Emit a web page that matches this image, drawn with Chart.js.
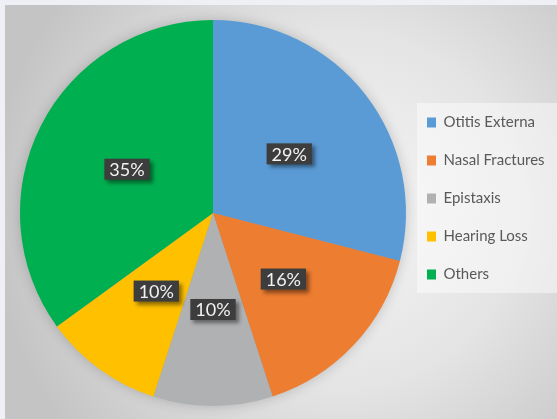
<!DOCTYPE html>
<html>
<head>
<meta charset="utf-8">
<script src="https://cdn.jsdelivr.net/npm/chart.js@4"></script>
<style>
  html, body { margin: 0; padding: 0; background: #eef0f5; }
  #wrap { width: 557px; height: 419px; }
</style>
</head>
<body>
<div id="wrap"><canvas id="pieChart" width="557" height="419"></canvas></div>
<script>
const categories = ['Otitis Externa', 'Nasal Fractures', 'Epistaxis', 'Hearing Loss', 'Others'];
const shares = [29, 16, 10, 10, 35];
const sliceColors = ['#5b9bd5', '#ed7d31', '#b0b1b3', '#ffc000', '#00b050'];

// background panel + legend box behind the chart
const backdrop = {
    id: 'backdrop',
    beforeDraw(chart) {
        const ctx = chart.ctx;
        ctx.save();
        ctx.fillStyle = '#eef0f5';
        ctx.fillRect(0, 0, chart.width, chart.height);
        const g = ctx.createRadialGradient(340, 210, 10, 340, 210, 350);
        g.addColorStop(0, '#f5f5f5');
        g.addColorStop(0.5, '#e4e4e4');
        g.addColorStop(1, '#c4c4c4');
        ctx.fillStyle = g;
        ctx.fillRect(5, 5, chart.width - 5, chart.height - 5);
        ctx.fillStyle = 'rgba(255,255,255,0.45)';
        ctx.fillRect(417, 103, chart.width - 417, 190);
        ctx.restore();
    },
    beforeDatasetsDraw(chart) {
        const arc = chart.getDatasetMeta(0).data[0];
        if (!arc) return;
        const ctx = chart.ctx;
        ctx.save();
        ctx.shadowColor = 'rgba(0,0,0,0.22)';
        ctx.shadowBlur = 14;
        ctx.fillStyle = '#999';
        ctx.beginPath();
        ctx.arc(arc.x, arc.y, arc.outerRadius - 1, 0, Math.PI * 2);
        ctx.fill();
        ctx.restore();
    }
};

// dark percentage tags on each slice
const sliceTags = {
    id: 'sliceTags',
    afterDatasetsDraw(chart) {
        const ctx = chart.ctx;
        const values = chart.data.datasets[0].data;
        const total = values.reduce((a, b) => a + b, 0);
        ctx.save();
        ctx.font = '18px Lato, "Liberation Sans", sans-serif';
        ctx.textAlign = 'center';
        ctx.textBaseline = 'middle';
        chart.getDatasetMeta(0).data.forEach((arc, i) => {
            const pos = arc.tooltipPosition();
            const label = Math.round(values[i] / total * 100) + '%';
            const w = ctx.measureText(label).width + 10;
            const h = 21;
            ctx.shadowColor = 'rgba(0,0,0,0.45)';
            ctx.shadowBlur = 4;
            ctx.shadowOffsetX = 3;
            ctx.shadowOffsetY = 3;
            ctx.fillStyle = '#3d3d3d';
            ctx.fillRect(pos.x - w / 2, pos.y - h / 2, w, h);
            ctx.shadowColor = 'transparent';
            ctx.fillStyle = '#f2f2f2';
            ctx.fillText(label, pos.x, pos.y + 1);
        });
        ctx.restore();
    }
};

new Chart(document.getElementById('pieChart').getContext('2d'), {
    type: 'pie',
    data: {
        labels: categories,
        datasets: [{
            data: shares,
            backgroundColor: sliceColors,
            borderWidth: 0,
            radius: 193
        }]
    },
    options: {
        responsive: false,
        animation: false,
        layout: {
            padding: { top: 92, bottom: 85, left: 22, right: 13 }
        },
        plugins: {
            tooltip: { enabled: false },
            legend: {
                position: 'right',
                align: 'start',
                maxWidth: 140,
                labels: {
                    boxWidth: 9,
                    boxHeight: 10,
                    padding: 23,
                    color: '#595959',
                    font: { family: 'Lato, "Liberation Sans", sans-serif', size: 15 }
                }
            }
        }
    },
    plugins: [backdrop, sliceTags]
});
</script>
</body>
</html>
